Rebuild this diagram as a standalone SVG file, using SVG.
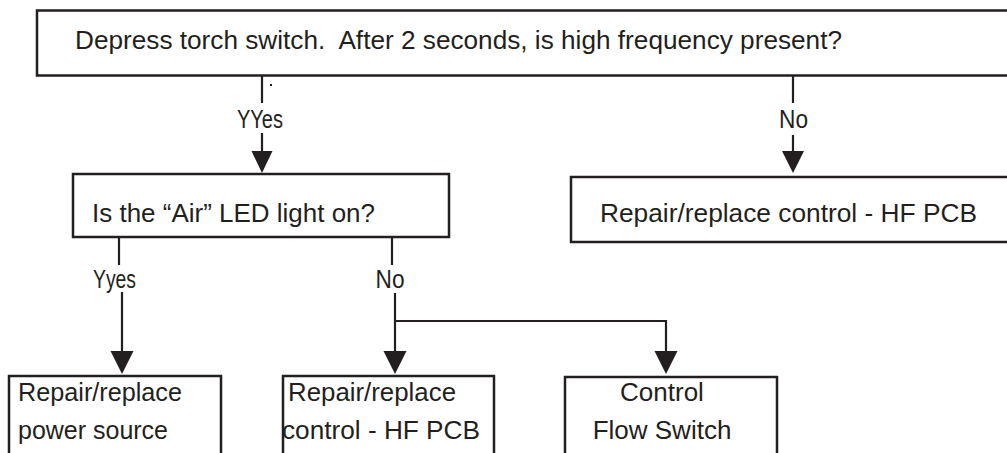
<svg xmlns="http://www.w3.org/2000/svg" width="1007" height="453" viewBox="0 0 1007 453">
<style>
.box{fill:#fff;stroke:#231f20;stroke-width:2.5}
.t{font-family:"Liberation Sans",Arial,sans-serif;font-size:26px;fill:#231f20;white-space:pre}
.lbl{font-family:"Liberation Sans",Arial,sans-serif;font-size:25px;fill:#231f20;text-anchor:middle}
.ln{fill:none;stroke:#231f20;stroke-width:2.2}
.ah{fill:#231f20}
</style>
<rect width="1007" height="453" fill="#fff"/>
<g id="connectors">
  <path class="ln" d="M262 75V103M262 133V152"/>
  <polygon class="ah" points="251.5,151 272.5,151 262,173"/>
  <rect x="270" y="84" width="2" height="2" fill="#231f20"/>
  <path class="ln" d="M793 75V103M793 135V152"/>
  <polygon class="ah" points="782,151 804,151 793,173"/>
  <path class="ln" d="M119 237V265M122 292V352"/>
  <polygon class="ah" points="110.5,351 133.5,351 122,374"/>
  <path class="ln" d="M392 237V265M395 293V352M395 321H666V352"/>
  <polygon class="ah" points="383.5,351 406.5,351 395,374"/>
  <polygon class="ah" points="654.5,351 677.5,351 666,374"/>
  <text class="lbl" x="260" y="128" textLength="46" lengthAdjust="spacingAndGlyphs">YYes</text>
  <text class="lbl" x="793.5" y="127.5" textLength="29" lengthAdjust="spacingAndGlyphs">No</text>
  <text class="lbl" x="114.5" y="288" textLength="43" lengthAdjust="spacingAndGlyphs">Yyes</text>
  <text class="lbl" x="390" y="288" textLength="29" lengthAdjust="spacingAndGlyphs">No</text>
</g>
<g id="n1">
  <rect class="box" x="37" y="10.5" width="990" height="65"/>
  <text class="t" x="75" y="49" textLength="767" lengthAdjust="spacingAndGlyphs">Depress torch switch.  After 2 seconds, is high frequency present?</text>
</g>
<g id="n2">
  <rect class="box" x="73" y="174" width="376" height="63"/>
  <text class="t" x="92" y="222" textLength="283" lengthAdjust="spacingAndGlyphs">Is the “Air” LED light on?</text>
</g>
<g id="n3">
  <rect class="box" x="571" y="177" width="456" height="65"/>
  <text class="t" x="600" y="222" textLength="377" lengthAdjust="spacingAndGlyphs">Repair/replace control - HF PCB</text>
</g>
<g id="n4">
  <rect class="box" x="9" y="376" width="212" height="100"/>
  <text class="t" x="18" y="401" textLength="164" lengthAdjust="spacingAndGlyphs">Repair/replace</text>
  <text class="t" x="18" y="439" textLength="150" lengthAdjust="spacingAndGlyphs">power source</text>
</g>
<g id="n5">
  <rect class="box" x="283" y="376" width="211" height="100"/>
  <text class="t" x="288" y="401" textLength="168" lengthAdjust="spacingAndGlyphs">Repair/replace</text>
  <text class="t" x="282" y="439" textLength="198" lengthAdjust="spacingAndGlyphs">control - HF PCB</text>
</g>
<g id="n6">
  <rect class="box" x="565" y="377" width="212" height="100"/>
  <text class="t" x="662" y="401" text-anchor="middle">Control</text>
  <text class="t" x="662" y="439" text-anchor="middle">Flow Switch</text>
</g>
</svg>
